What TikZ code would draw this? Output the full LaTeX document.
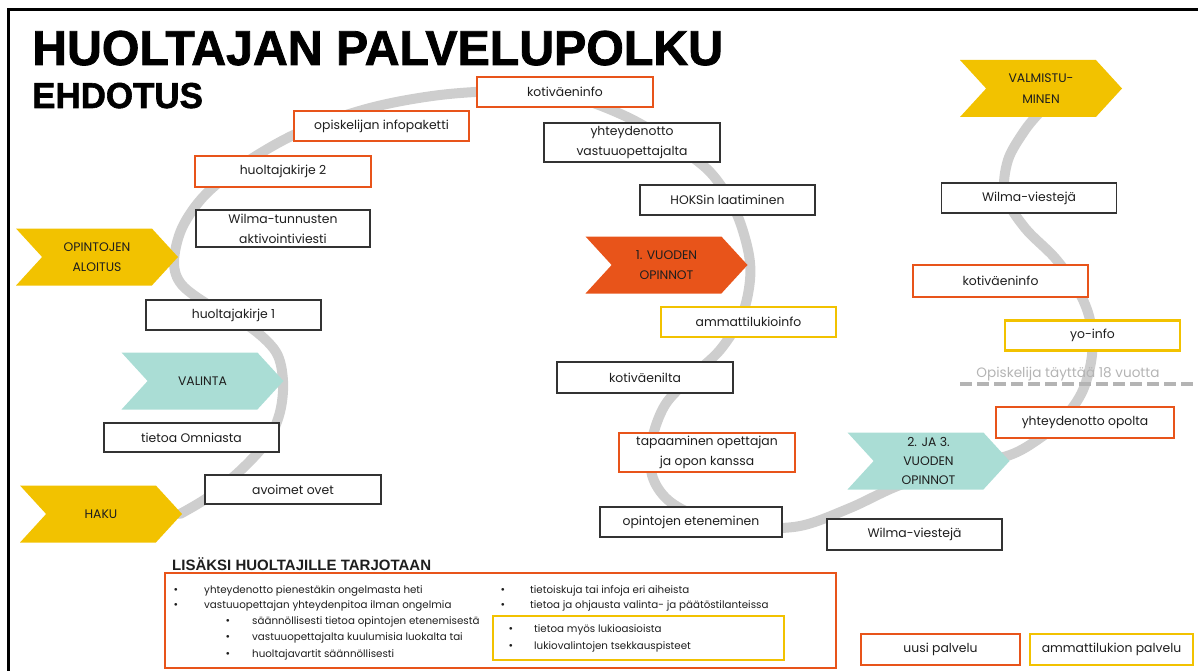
\documentclass[tikz,border=0pt]{standalone}
\usepackage{fontspec}
\setmainfont{Poppins}
\newfontfamily\titlefont[BoldFeatures={FakeBold=1.6}]{Liberation Sans}
\newfontfamily\subfont{Liberation Sans}
\usetikzlibrary{shapes.symbols}
\definecolor{oran}{RGB}{232,84,26}
\definecolor{yell}{RGB}{242,194,0}
\definecolor{tealc}{RGB}{170,221,213}
\definecolor{pathgray}{RGB}{206,206,206}
\definecolor{txt}{RGB}{30,30,30}
\definecolor{notegray}{RGB}{180,180,180}
\tikzset{
  box/.style={draw=black!80, line width=1.2, fill=white, inner sep=0, text=txt,
    font=\fontsize{12.4}{20}\selectfont, align=center},
  obox/.style={box, draw=oran, line width=2.8},
  ybox/.style={box, draw=yell, line width=2.2},
  chev/.style={signal, signal to=east, signal from=west, signal pointer angle=95,
    minimum height=57, minimum width=162, inner sep=0, text=txt,
    font=\fontsize{12.4}{20}\selectfont, align=center},
  bdot/.style={inner sep=0, text=txt, font=\fontsize{11}{11}\selectfont},
  btxt/.style={inner sep=0, anchor=west, text=txt, font=\fontsize{10.3}{12}\selectfont},
}
\newcommand\blt[5]{\node[bdot] (#1d) at (#2,#4) {•}; \node[btxt] (#1) at (#3,#4) {#5};}
\begin{document}
\begin{tikzpicture}[x=1pt,y=-1pt]
\useasboundingbox (0,0) rectangle (1198,671);
% frame
\draw[line width=3] (8,671) -- (8,10) -- (1198,10);
% title
\node[anchor=base west, inner sep=0] (title) at (32,65)
  {\titlefont\bfseries\fontsize{49}{49}\selectfont\scalebox{0.985}[1]{HUOLTAJAN PALVELUPOLKU}};
\node[anchor=base west, inner sep=0] (sub) at (32,108)
  {\titlefont\bfseries\fontsize{36}{36}\selectfont\scalebox{0.97}[1]{EHDOTUS}};
% path
\draw[pathgray, line width=10, line cap=round] plot[smooth, tension=0.55] coordinates {
 (180,514) (210,496) (243,468) (268,440) (280,412) (283,381) (276,352) (250,327)
 (212,307) (182,285) (174,262) (182,228) (205,195) (245,163) (300,132) (370,108)
 (440,95) (510,91) (570,96) (625,116) (670,142) (710,172) (735,210) (748,250)
 (750,280) (742,315) (720,350) (690,378) (665,405) (652,440) (652,475) (668,500)
 (700,517) (750,527) (800,526) (850,508) (900,485) (960,467) (1010,455) (1040,438)
 (1065,417) (1083,390) (1092,355) (1090,320) (1078,290) (1055,258) (1025,228)
 (1005,195) (1008,160) (1025,130) (1040,112)};
% dashed age line
\draw[notegray, line width=4, dash pattern=on 12 off 5] (960,384) -- (1198,384);
\node[inner sep=0, text=notegray, font=\fontsize{13.6}{14}\selectfont] (age) at (1068,374)
  {Opiskelija täyttää 18 vuotta};
% chevrons
\node[chev, fill=yell] (haku) at (101,514) {HAKU};
\node[chev, fill=tealc] (valinta) at (202.5,381) {VALINTA};
\node[chev, fill=yell] (aloitus) at (97,257) {OPINTOJEN\\ALOITUS};
\node[chev, fill=oran] (v1) at (666.5,265) {1. VUODEN\\OPINNOT};
\node[chev, fill=tealc, font=\fontsize{12.4}{19}\selectfont] (v23) at (928.5,461) {2. JA 3.\\VUODEN\\OPINNOT};
\node[chev, fill=yell, font=\fontsize{12.4}{21}\selectfont] (valm) at (1041,88.5) {VALMISTU-\\MINEN};
% boxes
\node[obox, minimum width=176, minimum height=30] (kinfo1) at (565,92) {kotiväeninfo};
\node[obox, minimum width=175, minimum height=30] (infop) at (381.5,126) {opiskelijan infopaketti};
\node[obox, minimum width=176, minimum height=31] (hk2) at (283,171.5) {huoltajakirje 2};
\node[box, minimum width=174, minimum height=37] (wilmat) at (283,228.5) {Wilma-tunnusten\\aktivointiviesti};
\node[box, minimum width=175, minimum height=30] (hk1) at (233.5,315) {huoltajakirje 1};
\node[box, minimum width=175, minimum height=29] (omnia) at (191.5,437.5) {tietoa Omniasta};
\node[box, minimum width=176, minimum height=29] (avoim) at (293,489.5) {avoimet ovet};
\node[box, minimum width=176, minimum height=39] (yhtvo) at (632,142.5) {yhteydenotto\\vastuuopettajalta};
\node[box, minimum width=175, minimum height=30] (hoks) at (727.5,200) {HOKSin laatiminen};
\node[ybox, minimum width=175, minimum height=30] (amminfo) at (748.5,322) {ammattilukioinfo};
\node[box, minimum width=176, minimum height=31] (kotilta) at (645,377.5) {kotiväenilta};
\node[obox, minimum width=176, minimum height=39] (tapaam) at (707,452.5) {tapaaminen opettajan\\ja opon kanssa};
\node[box, minimum width=182, minimum height=30] (openet) at (691,522) {opintojen eteneminen};
\node[box, minimum width=175, minimum height=31] (wilmab) at (914.5,534.5) {Wilma-viestejä};
\node[obox, minimum width=178, minimum height=31] (yhtop) at (1085,422.5) {yhteydenotto opolta};
\node[ybox, minimum width=175, minimum height=30] (yoinfo) at (1092.5,335.5) {yo-info};
\node[obox, minimum width=175, minimum height=32] (kinfo2) at (1000.5,281) {kotiväeninfo};
\node[box, minimum width=175, minimum height=30] (wilmar) at (1029,198) {Wilma-viestejä};
% legend
\node[obox, minimum width=159, minimum height=31] (uusi) at (940.5,649.5) {uusi palvelu};
\node[ybox, minimum width=163, minimum height=31] (ammp) at (1111.5,649.5) {ammattilukion palvelu};
% extra services
\node[anchor=base west, inner sep=0, text=txt] (lisaksi) at (172,570)
  {\subfont\bfseries\fontsize{15}{15}\selectfont LISÄKSI HUOLTAJILLE TARJOTAAN};
\node[draw=oran, line width=2.5, minimum width=671, minimum height=95, inner sep=0] (extra) at (500.5,620.5) {};
\node[draw=yell, line width=2, minimum width=291, minimum height=44, inner sep=0] (lukio) at (638.5,638) {};
\blt{a1}{176}{204}{591}{yhteydenotto pienestäkin ongelmasta heti}
\blt{a2}{176}{204}{606}{vastuuopettajan yhteydenpitoa ilman ongelmia}
\blt{a3}{228}{252}{622}{säännöllisesti tietoa opintojen etenemisestä}
\blt{a4}{228}{252}{638}{vastuuopettajalta kuulumisia luokalta tai}
\blt{a5}{228}{252}{655}{huoltajavartit säännöllisesti}
\blt{b1}{503}{530}{591}{tietoiskuja tai infoja eri aiheista}
\blt{b2}{503}{530}{606}{tietoa ja ohjausta valinta- ja päätöstilanteissa}
\blt{c1}{511}{534}{630}{tietoa myös lukioasioista}
\blt{c2}{511}{534}{647}{lukiovalintojen tsekkauspisteet}
\end{tikzpicture}
\end{document}
